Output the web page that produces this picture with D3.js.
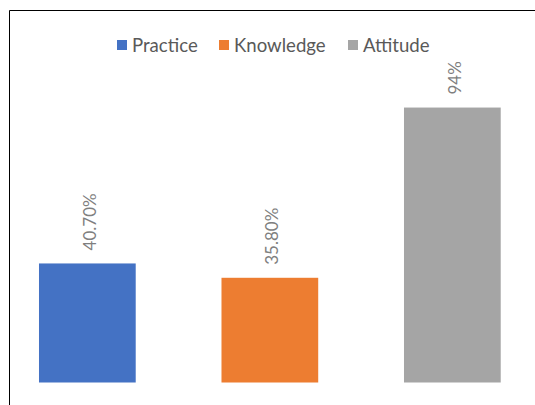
<!DOCTYPE html>
<html>
<head>
<meta charset="utf-8">
<script src="https://cdn.jsdelivr.net/npm/d3@7"></script>
<style>
  html, body { margin: 0; padding: 0; background: #fff; }
  svg { display: block; }
  text { font-family: Lato, "Noto Sans", sans-serif; }
</style>
</head>
<body>
<svg id="chart" width="535" height="405"></svg>
<script>
const categories = ["Practice", "Knowledge", "Attitude"];
const values = [40.7, 35.8, 94];
const valueLabels = ["40.70%", "35.80%", "94%"];
const colors = ["#4472C4", "#ED7D31", "#A5A5A5"];

const svg = d3.select("#chart");
const W = 535, H = 405;

// frame (cut off at right and bottom)
svg.append("path")
  .attr("d", `M9.5,${H} L9.5,10.5 L${W},10.5`)
  .attr("fill", "none")
  .attr("stroke", "#000")
  .attr("stroke-width", 1);

const x = d3.scaleBand()
  .domain(categories)
  .range([-3.9, 543.6])
  .paddingInner(0.47)
  .paddingOuter(0.235);

const y = d3.scaleLinear().domain([0, 100]).range([382.5, 90]);

svg.append("g").selectAll("rect")
  .data(categories)
  .join("rect")
  .attr("x", d => x(d))
  .attr("width", x.bandwidth())
  .attr("y", (d, i) => y(values[i]))
  .attr("height", (d, i) => y(0) - y(values[i]))
  .attr("fill", (d, i) => colors[i]);

// rotated data labels
svg.append("g").selectAll("text")
  .data(categories)
  .join("text")
  .attr("transform", (d, i) => `translate(${x(d) + x.bandwidth() / 2 + 8.5},${y(values[i]) - 13}) rotate(-90)`)
  .attr("text-anchor", "start")
  .attr("font-size", 17)
  .attr("fill", "#7F7F7F")
  .text((d, i) => valueLabels[i]);

// legend
const legendX = [117, 219, 348];
const lg = svg.append("g");
categories.forEach((c, i) => {
  lg.append("rect")
    .attr("x", legendX[i]).attr("y", 40)
    .attr("width", 10).attr("height", 10)
    .attr("fill", colors[i]);
  lg.append("text")
    .attr("x", legendX[i] + 15).attr("y", 51.5)
    .attr("font-size", 18.6)
    .attr("fill", "#595959")
    .text(c);
});
</script>
</body>
</html>
